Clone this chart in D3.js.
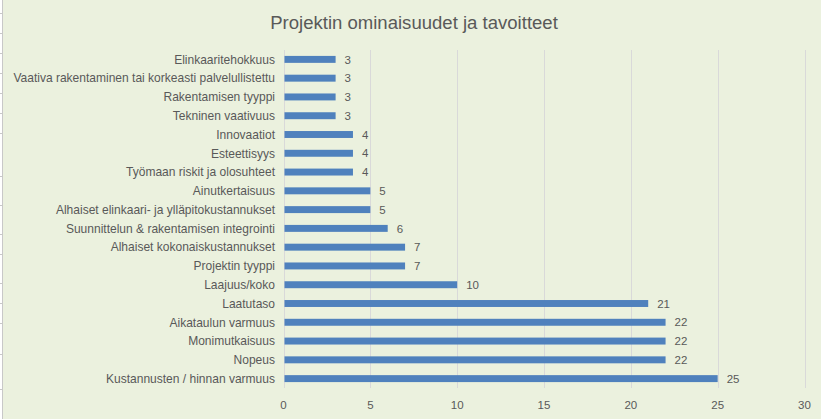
<!DOCTYPE html>
<html><head><meta charset="utf-8">
<script src="https://cdn.jsdelivr.net/npm/d3@7"></script>
<style>
html,body{margin:0;padding:0;background:#fff;}
svg{display:block;}
text{font-family:"Liberation Sans",Arial,sans-serif;fill:#595959;}
</style></head><body>
<svg id="c" width="821" height="419"></svg>
<script>
const title = "Projektin ominaisuudet ja tavoitteet";
const categories = [
  "Elinkaaritehokkuus",
  "Vaativa rakentaminen tai korkeasti palvelullistettu",
  "Rakentamisen tyyppi",
  "Tekninen vaativuus",
  "Innovaatiot",
  "Esteettisyys",
  "Työmaan riskit ja olosuhteet",
  "Ainutkertaisuus",
  "Alhaiset elinkaari- ja ylläpitokustannukset",
  "Suunnittelun & rakentamisen integrointi",
  "Alhaiset kokonaiskustannukset",
  "Projektin tyyppi",
  "Laajuus/koko",
  "Laatutaso",
  "Aikataulun varmuus",
  "Monimutkaisuus",
  "Nopeus",
  "Kustannusten / hinnan varmuus"
];
const values = [3,3,3,3,4,4,4,5,5,6,7,7,10,21,22,22,22,25];
const xTicks = [0,5,10,15,20,25,30];
// background spreadsheet row lines peeking at the left edge
const sheetRows = [13,33,53,73,93,113,133,176,205,234,254,283,303,323,354,389];

const svg = d3.select("#c");
const W = 821, H = 419;
svg.append("rect").attr("x",0).attr("y",0).attr("width",W).attr("height",H).attr("fill","#fff");
svg.append("rect").attr("x",3).attr("y",0).attr("width",W-3).attr("height",H).attr("fill","#EBF1DE");
svg.append("line").attr("x1",2.5).attr("x2",2.5).attr("y1",0).attr("y2",H).attr("stroke","#c8c8c8");
svg.selectAll("line.sheet").data(sheetRows).join("line").attr("class","sheet")
  .attr("x1",0).attr("x2",2).attr("y1",d=>d+0.5).attr("y2",d=>d+0.5).attr("stroke","#c8c8c8");

const plot = {left:283.5, right:804.5, top:50, bottom:388};
const x = d3.scaleLinear().domain([0,30]).range([plot.left, plot.right]);
const y = d3.scaleBand().domain(categories).range([plot.top, plot.bottom]).paddingInner(0.63).paddingOuter(0.315);

// gridlines
svg.append("g").selectAll("line").data(xTicks.filter(d=>d>0)).join("line")
  .attr("x1",d=>Math.round(x(d))+0.5).attr("x2",d=>Math.round(x(d))+0.5)
  .attr("y1",plot.top).attr("y2",plot.bottom).attr("stroke","#D9D9D9").attr("stroke-width",1);
// category axis line
svg.append("line").attr("x1",Math.round(x(0))+0.5).attr("x2",Math.round(x(0))+0.5)
  .attr("y1",plot.top).attr("y2",plot.bottom).attr("stroke","#D9D9D9");

// bars
svg.append("g").selectAll("rect").data(values).join("rect")
  .attr("x",x(0)+1).attr("y",(d,i)=>y(categories[i]))
  .attr("width",d=>x(d)-x(0)-1).attr("height",y.bandwidth())
  .attr("fill","#4F81BD");

// value labels
svg.append("g").selectAll("text").data(values).join("text")
  .attr("x",d=>x(d)+9).attr("y",(d,i)=>y(categories[i])+y.bandwidth()/2)
  .attr("dy","0.36em").attr("font-size",11.5).text(d=>d);

// category labels
const cat = svg.append("g").selectAll("text").data(categories).join("text")
  .attr("x",275).attr("y",d=>y(d)+y.bandwidth()/2).attr("dy","0.36em")
  .attr("text-anchor","end").attr("font-size",11).text(d=>d);
// fit font size so longest label matches reference width (~262px)
let maxW = 0; cat.each(function(){maxW=Math.max(maxW,this.getComputedTextLength());});
const fs = 11*262/maxW;
cat.attr("font-size",fs);

// x tick labels
svg.append("g").selectAll("text").data(xTicks).join("text")
  .attr("x",d=>x(d)).attr("y",405).attr("dy","0.36em").attr("text-anchor","middle")
  .attr("font-size",11.5).text(d=>d);

// title
const t = svg.append("text").attr("x",414).attr("y",22).attr("dy","0.36em")
  .attr("text-anchor","middle").attr("font-size",17).text(title);
const tw = t.node().getComputedTextLength();
t.attr("font-size",17*288/tw);
</script>
</body></html>
